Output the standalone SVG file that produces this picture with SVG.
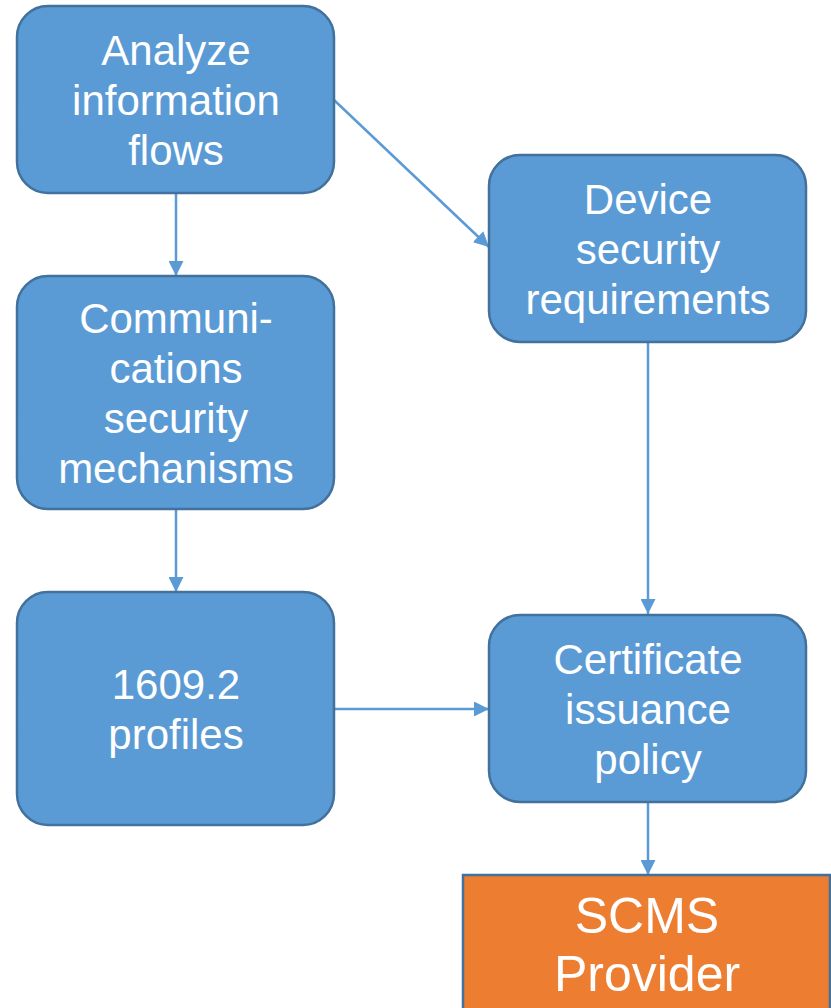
<svg xmlns="http://www.w3.org/2000/svg" width="831" height="1008" viewBox="0 0 831 1008">
  <style>
    .box { fill: #5B9BD5; stroke: #41719C; stroke-width: 2.5; }
    .prov { fill: #ED7D31; stroke: #41719C; stroke-width: 2.5; }
    .lbl { font-family: "Liberation Sans", Arial, sans-serif; font-size: 42px; fill: #FFFFFF; text-anchor: middle; }
    .big { font-size: 50px; }
    .edge { stroke: #5B9BD5; stroke-width: 2.5; fill: none; marker-end: url(#head); }
  </style>
  <defs>
    <marker id="head" viewBox="0 0 10 10" refX="10" refY="5" markerWidth="6" markerHeight="6" markerUnits="strokeWidth" orient="auto">
      <path d="M0,0 L10,5 L0,10 Z" fill="#5B9BD5"/>
    </marker>
  </defs>

  <g id="connectors">
    <line class="edge" x1="176" y1="194" x2="176" y2="276"/>
    <line class="edge" x1="334" y1="100" x2="489" y2="247"/>
    <line class="edge" x1="648" y1="343" x2="648" y2="614"/>
    <line class="edge" x1="176" y1="510" x2="176" y2="592"/>
    <line class="edge" x1="335" y1="709" x2="489" y2="709"/>
    <line class="edge" x1="648" y1="803" x2="648" y2="875"/>
  </g>

  <g id="analyze">
    <rect class="box" x="17" y="6" width="317" height="187" rx="31"/>
    <text class="lbl" x="176" y="65">Analyze</text>
    <text class="lbl" x="176" y="115">information</text>
    <text class="lbl" x="176" y="165">flows</text>
  </g>

  <g id="comms">
    <rect class="box" x="17" y="276" width="317" height="233" rx="31"/>
    <text class="lbl" x="176" y="333">Communi-</text>
    <text class="lbl" x="176" y="383">cations</text>
    <text class="lbl" x="176" y="433">security</text>
    <text class="lbl" x="176" y="483">mechanisms</text>
  </g>

  <g id="profiles">
    <rect class="box" x="17" y="592" width="317" height="233" rx="31"/>
    <text class="lbl" x="176" y="699">1609.2</text>
    <text class="lbl" x="176" y="749">profiles</text>
  </g>

  <g id="device">
    <rect class="box" x="489" y="155" width="317" height="187" rx="31"/>
    <text class="lbl" x="648" y="214">Device</text>
    <text class="lbl" x="648" y="264">security</text>
    <text class="lbl" x="648" y="314">requirements</text>
  </g>

  <g id="policy">
    <rect class="box" x="489" y="615" width="317" height="187" rx="31"/>
    <text class="lbl" x="648" y="674">Certificate</text>
    <text class="lbl" x="648" y="724">issuance</text>
    <text class="lbl" x="648" y="774">policy</text>
  </g>

  <g id="provider">
    <rect class="prov" x="463" y="875" width="367" height="160"/>
    <text class="lbl big" x="647" y="933">SCMS</text>
    <text class="lbl big" x="647" y="991">Provider</text>
  </g>
</svg>
